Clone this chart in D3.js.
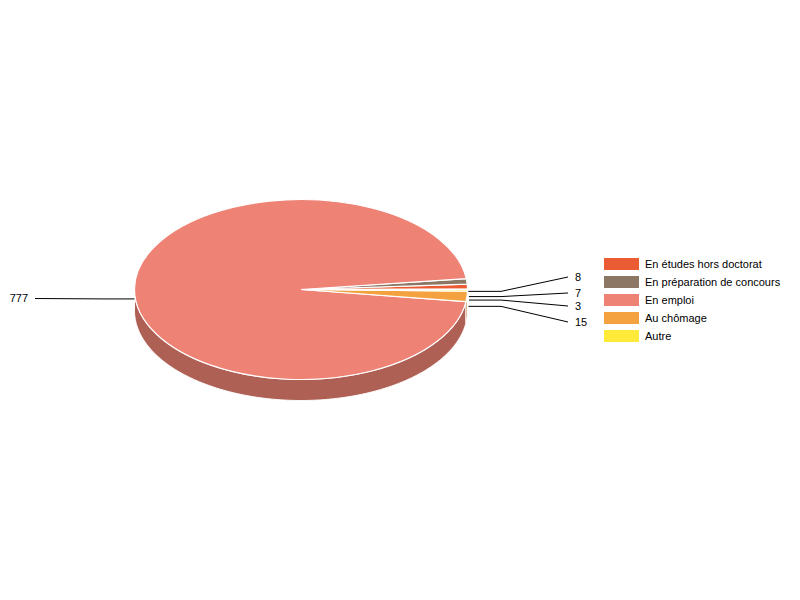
<!DOCTYPE html>
<html lang="fr">
<head>
    <meta charset="UTF-8">
    <title>Situation</title>
    <script src="https://d3js.org/d3.v7.min.js"></script>
    <style>
        html, body { margin: 0; padding: 0; background: #fff; }
        svg { display: block; }
        text { font-family: "Liberation Sans", Arial, sans-serif; font-size: 11px; fill: #000; }
    </style>
</head>
<body>
    <div class="canvas"></div>
    <script>
        const categories = ['En études hors doctorat', 'En préparation de concours', 'En emploi', 'Au chômage', 'Autre'];
        const values = [7, 8, 777, 15, 3];
        const colors = ['#EC5C34', '#8C7765', '#EE8274', '#F4A13F', '#FFEA3A'];

        const width = 800;
        const height = 600;
        const [cx, cy, rx, ry, depth] = [301, 289.5, 166.5, 90, 21];
        // where each leader line ends (same order as categories)
        const labelY = [293, 277, 298.5, 322, 306];

        const svg = d3.select('.canvas')
            .append('svg')
            .attr('width', width)
            .attr('height', height);

        // pie runs counter-clockwise, starting just above the east point
        const start = (89.7 / 180) * Math.PI;
        const slices = d3.pie().sort(null).startAngle(start).endAngle(start - 2 * Math.PI)(values);
        const px = a => cx + rx * Math.sin(a);
        const py = a => cy - ry * Math.cos(a);

        // side wall, only the part of each slice that faces the viewer
        const wall = svg.append('g');
        slices.forEach((s, i) => {
            const hi = s.startAngle, lo = s.endAngle;
            // front of the pie is d3 angle 90deg..270deg (also looked at one turn down)
            [0, -2 * Math.PI].forEach(turn => {
                const a0 = Math.max(lo, Math.PI / 2 + turn);
                const a1 = Math.min(hi, 1.5 * Math.PI + turn);
                if (a1 <= a0) return;
                const steps = d3.range(a0, a1, 0.01).concat([a1]);
                const top = steps.map(a => [px(a), py(a)]);
                const bottom = steps.slice().reverse().map(a => [px(a), py(a) + depth]);
                wall.append('path')
                    .attr('d', d3.line()(top.concat(bottom)) + 'Z')
                    .attr('fill', d3.color(colors[i]).darker(0.86))
                    .attr('stroke', '#fff')
                    .attr('stroke-width', 1);
            });
        });

        // top face: plain d3 arcs squashed into an ellipse
        const arc = d3.arc().innerRadius(0).outerRadius(rx);
        svg.append('g')
            .attr('transform', `translate(${cx}, ${cy}) scale(1, ${ry / rx})`)
            .selectAll('path')
            .data(slices)
            .enter()
            .append('path')
            .attr('d', arc)
            .attr('fill', (d, i) => colors[i])
            .attr('stroke', '#fff')
            .attr('stroke-width', 1.2)
            .attr('vector-effect', 'non-scaling-stroke');

        // leader lines and value labels
        const labels = svg.append('g');
        slices.forEach((s, i) => {
            const mid = (s.startAngle + s.endAngle) / 2;
            const x0 = px(mid);
            const y0 = py(mid) + depth / 2 - 0.5;
            const right = x0 > cx;
            const xStart = right ? x0 + 1.5 : x0;
            const xElbow = right ? 501 : 105;
            const xEnd = right ? 568 : 35;
            labels.append('path')
                .attr('d', d3.line()([[xStart, y0], [xElbow, y0], [xEnd, labelY[i]]]))
                .attr('fill', 'none')
                .attr('stroke', '#000')
                .attr('stroke-width', 1);
            labels.append('text')
                .attr('x', right ? xEnd + 7 : xEnd - 7)
                .attr('y', labelY[i])
                .attr('dy', '0.35em')
                .attr('text-anchor', right ? 'start' : 'end')
                .text(values[i]);
        });

        // legend
        const legend = svg.append('g')
            .selectAll('g')
            .data(categories)
            .enter()
            .append('g')
            .attr('transform', (d, i) => `translate(604, ${258 + i * 18})`);
        legend.append('rect')
            .attr('width', 35)
            .attr('height', 12)
            .attr('fill', (d, i) => colors[i]);
        legend.append('text')
            .attr('x', 41)
            .attr('y', 6)
            .attr('dy', '0.35em')
            .text(d => d);
    </script>
</body>
</html>
